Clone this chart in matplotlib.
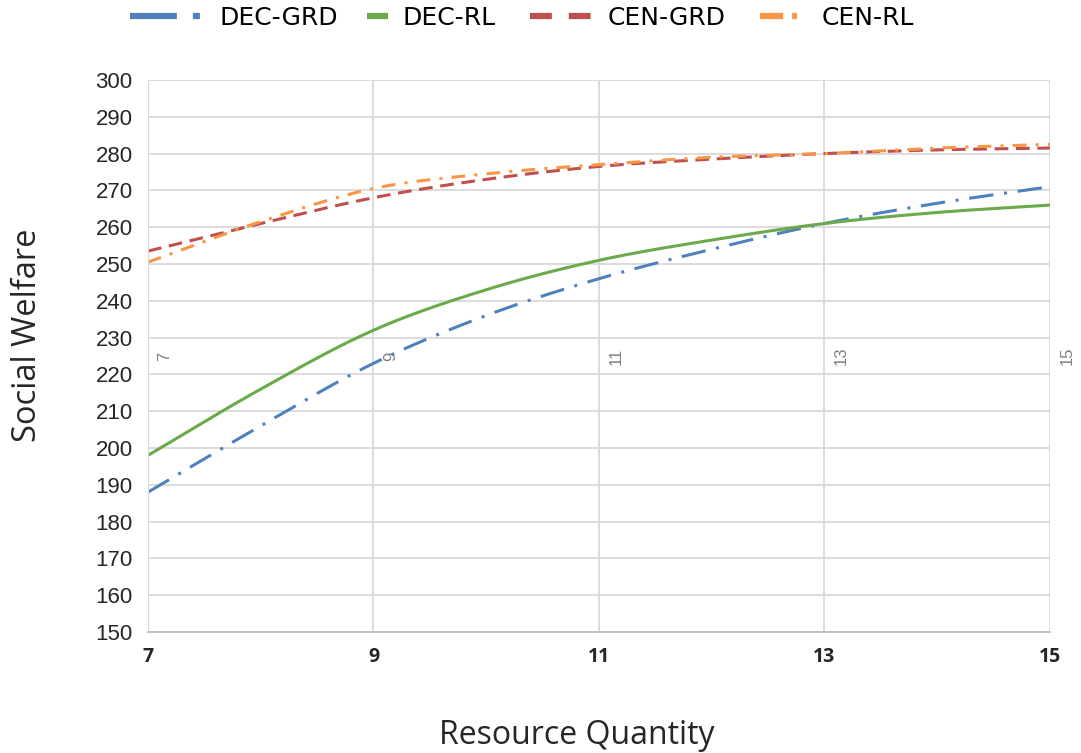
import numpy as np
import matplotlib
matplotlib.use("Agg")
import matplotlib.pyplot as plt
from matplotlib.lines import Line2D

x_vals = [7, 8, 9, 10, 11, 12, 13, 14, 15]
dec_grd = [188, 206, 223, 236, 246, 254, 261, 266.5, 271]
dec_rl = [198, 216, 232, 243, 251, 256.5, 261, 264, 266]
cen_grd = [253.5, 261, 268, 273, 276.5, 278.5, 280, 281, 281.5]
cen_rl = [250.5, 261.5, 270.5, 274.5, 277, 279, 280, 281.5, 282.5]
x_ticks = [7, 9, 11, 13, 15]
y_ticks = list(range(150, 301, 10))
labels = ["DEC-GRD", "DEC-RL", "CEN-GRD", "CEN-RL"]
colors = ["#4f81bd", "#6aaa4a", "#c0504d", "#f79646"]
data = [dec_grd, dec_rl, cen_grd, cen_rl]

plot_styles = [(0, (8, 3.5, 1, 3.5)), "-", (0, (4.5, 2.5)), (0, (4.5, 3, 1, 3))]
# legend handle styles (in units of handle line width)
leg_styles = [(0, (7.5, 2.56, 1.12, 5)), "-", (0, (3.5, 2.7)), (0, (3.7, 1.45, 0.8, 5))]
leg_hlen = [2.8, 0.84, 2.48, 1.48]
leg_pad = [0.8, 0.56, 0.64, 1.0]
leg_x = [130, 367, 530, 760]


def smooth(xs, ys, n=20):
    xs = np.asarray(xs, float)
    ys = np.asarray(ys, float)
    px = np.concatenate([[2 * xs[0] - xs[1]], xs, [2 * xs[-1] - xs[-2]]])
    py = np.concatenate([[2 * ys[0] - ys[1]], ys, [2 * ys[-1] - ys[-2]]])
    outx, outy = [], []
    for i in range(1, len(px) - 2):
        t = np.linspace(0, 1, n, endpoint=(i == len(px) - 3))
        for arr, out in ((px, outx), (py, outy)):
            p0, p1, p2, p3 = arr[i - 1], arr[i], arr[i + 1], arr[i + 2]
            out.extend(0.5 * ((2 * p1) + (-p0 + p2) * t
                              + (2 * p0 - 5 * p1 + 4 * p2 - p3) * t ** 2
                              + (-p0 + 3 * p1 - 3 * p2 + p3) * t ** 3))
    return np.array(outx), np.array(outy)


fig = plt.figure(figsize=(10.81, 7.53), dpi=100)
ax = fig.add_axes([0.1369, 0.1607, 0.8344, 0.7331])

for label, ys, color, ls in zip(labels, data, colors, plot_styles):
    sx, sy = smooth(x_vals, ys)
    ax.plot(sx, sy, color=color, linestyle=ls, linewidth=2.2, label=label,
            solid_capstyle="butt", dash_capstyle="butt")

ax.set_xlim(7, 15)
ax.set_ylim(150, 300)
ax.set_xticks(x_ticks)
ax.set_yticks(y_ticks)
ax.grid(True, color="#d9d9d9", linewidth=1.3)
ax.set_axisbelow(True)
for s in ["top", "right"]:
    ax.spines[s].set_visible(False)
ax.spines["left"].set_color("#d9d9d9")
ax.spines["bottom"].set_color("#bfbfbf")
ax.spines["bottom"].set_linewidth(1.3)
ax.tick_params(axis="both", length=0)
ax.tick_params(axis="y", pad=11)
ax.tick_params(axis="x", pad=11)
for t in ax.get_yticklabels():
    t.set_fontfamily("Liberation Sans")
    t.set_fontsize(16)
    t.set_color("#262626")
for t in ax.get_xticklabels():
    t.set_fontfamily("Open Sans")
    t.set_fontweight("bold")
    t.set_fontsize(14)
    t.set_color("#262626")

# rotated grey labels inside the plot
for xv in x_ticks:
    ax.text(xv + 0.085, 225, str(xv), rotation=90, ha="left", va="center",
            fontsize=12, color="#808080", family="Liberation Sans", clip_on=False)

fig.text(28 / 1081, 1 - 335 / 753, "Social Welfare", rotation=90, ha="center", va="center",
         fontsize=23.5, family="Open Sans", color="#262626")
fig.text(577 / 1081, 1 - 735 / 753, "Resource Quantity", ha="center", va="center",
         fontsize=23, family="Open Sans", color="#262626")

# legend: one entry per legend box so that each handle has its own length
for label, color, ls, hl, pad, lx in zip(labels, colors, leg_styles, leg_hlen, leg_pad, leg_x):
    h = Line2D([], [], color=color, linestyle=ls, linewidth=4.5,
               solid_capstyle="butt", dash_capstyle="butt")
    fig.legend(handles=[h], labels=[label], loc="center left",
               bbox_to_anchor=(lx / 1081, 1 - 18 / 753), frameon=False,
               prop={"family": "DejaVu Sans", "size": 18}, handlelength=hl,
               handletextpad=pad, borderpad=0, borderaxespad=0)

fig.savefig("out.png", dpi=100)
